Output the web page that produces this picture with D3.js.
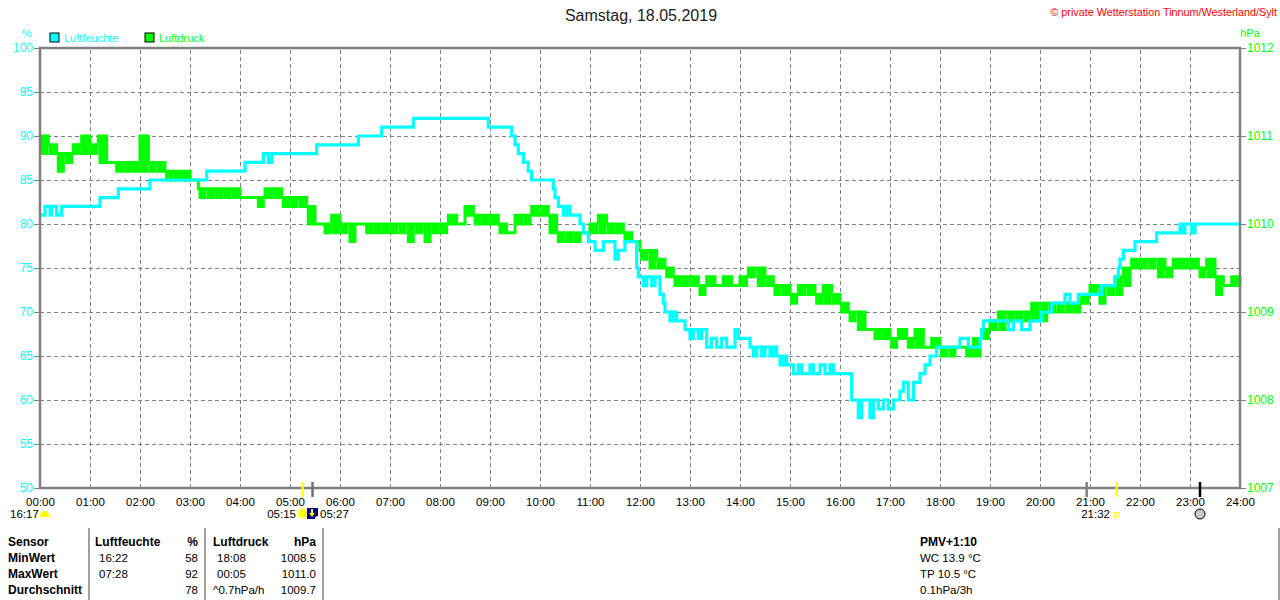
<!DOCTYPE html>
<html>
<head>
<meta charset="utf-8">
<script src="https://cdn.jsdelivr.net/npm/d3@7"></script>
<style>
body { margin: 0; background: #fff; }
svg { display: block; font-family: "Liberation Sans", Arial, sans-serif; }
</style>
</head>
<body>
<div id="chart"></div>
<script>
// Luftfeuchte: Wechselpunkte (Uhrzeit, %)
var humTimes = ["00:00","00:06","00:12","00:14","00:20","00:26","01:12","01:34","02:12","03:20",
  "04:06","04:28","04:34","04:38","05:32","06:22","06:50","07:28","08:58","09:26",
  "09:30","09:34","09:40","09:46","09:50","10:16","10:18","10:22","10:28","10:32",
  "10:36","10:48","10:52","10:58","11:06","11:16","11:30","11:34","11:42","11:56",
  "11:58","12:04","12:08","12:14","12:18","12:24","12:28","12:30","12:36","12:40",
  "12:44","12:54","13:00","13:04","13:10","13:14","13:20","13:26","13:32","13:38",
  "13:44","13:54","13:58","14:12","14:16","14:20","14:26","14:30","14:36","14:40",
  "14:44","14:48","14:52","14:56","15:04","15:10","15:14","15:24","15:28","15:36",
  "15:42","15:48","15:52","16:14","16:22","16:26","16:36","16:40","16:46","16:52",
  "16:58","17:04","17:12","17:16","17:22","17:28","17:36","17:42","17:48","17:56",
  "18:24","18:34","18:48","18:50","18:52","19:22","19:28","19:38","19:48","20:02",
  "20:14","20:30","20:36","20:46","21:14","21:30","21:34","21:36","21:40","21:54",
  "22:20","22:48","22:50","22:54","23:02","23:06","24:00"];
var humValues = [81,82,81,82,81,82,83,84,85,86,
  87,88,87,88,89,90,91,92,91,90,
  89,88,87,86,85,84,83,82,81,82,
  81,80,79,78,77,78,76,77,78,75,
  74,73,74,73,74,72,71,70,69,70,
  69,68,67,68,67,68,66,67,66,67,
  66,68,67,66,65,66,65,66,65,66,
  65,64,65,64,63,64,63,64,63,64,
  63,64,63,60,58,60,58,60,59,60,
  59,60,61,62,60,62,63,64,65,66,
  67,66,67,68,69,68,69,68,69,70,
  71,72,71,72,73,74,75,76,77,78,
  79,80,79,80,79,80,80];

// Luftdruck: 10-Minuten-Bloecke, kleinster und groesster Wert (hPa)
var presLo = [
  1010.8,1010.8,1010.6,1010.7,1010.8,1010.8,1010.8,1010.7,1010.7,1010.6,
  1010.6,1010.6,1010.6,1010.6,1010.6,1010.5,1010.5,1010.5,1010.5,1010.3,
  1010.3,1010.3,1010.3,1010.3,1010.3,1010.3,1010.2,1010.3,1010.3,1010.2,
  1010.2,1010.2,1010.0,1010.0,1009.9,1009.9,1009.9,1009.8,1010.0,1009.9,
  1009.9,1009.9,1009.9,1009.9,1009.8,1009.9,1009.8,1009.9,1009.9,1010.0,
  1010.0,1010.1,1010.0,1010.0,1010.0,1009.9,1009.9,1010.0,1010.0,1010.1,
  1010.1,1009.9,1009.8,1009.8,1009.8,1009.9,1009.9,1009.9,1009.9,1009.9,
  1009.8,1009.8,1009.6,1009.5,1009.5,1009.4,1009.3,1009.3,1009.3,1009.2,
  1009.3,1009.3,1009.3,1009.3,1009.3,1009.4,1009.3,1009.3,1009.2,1009.2,
  1009.1,1009.2,1009.2,1009.1,1009.1,1009.1,1009.0,1008.9,1008.8,1008.8,
  1008.7,1008.7,1008.6,1008.7,1008.6,1008.6,1008.6,1008.6,1008.5,1008.5,
  1008.6,1008.5,1008.5,1008.7,1008.8,1008.8,1008.9,1008.9,1008.9,1008.9,
  1008.9,1009.0,1009.0,1009.0,1009.0,1009.1,1009.2,1009.1,1009.2,1009.2,
  1009.3,1009.5,1009.5,1009.5,1009.4,1009.4,1009.5,1009.5,1009.5,1009.4,
  1009.4,1009.2,1009.3,1009.3];
var presHi = [
  1011.0,1010.9,1010.8,1010.8,1010.9,1011.0,1010.9,1011.0,1010.7,1010.7,
  1010.7,1010.7,1011.0,1010.7,1010.7,1010.6,1010.6,1010.6,1010.5,1010.4,
  1010.4,1010.4,1010.4,1010.4,1010.3,1010.3,1010.3,1010.4,1010.4,1010.3,
  1010.3,1010.3,1010.2,1010.0,1010.0,1010.1,1010.0,1010.0,1010.0,1010.0,
  1010.0,1010.0,1010.0,1010.0,1010.0,1010.0,1010.0,1010.0,1010.0,1010.1,
  1010.0,1010.2,1010.1,1010.1,1010.1,1010.0,1009.9,1010.1,1010.1,1010.2,
  1010.2,1010.1,1009.9,1009.9,1009.9,1009.9,1010.0,1010.1,1010.0,1010.0,
  1009.9,1009.8,1009.7,1009.7,1009.6,1009.5,1009.4,1009.4,1009.4,1009.3,
  1009.4,1009.3,1009.4,1009.3,1009.4,1009.5,1009.5,1009.4,1009.3,1009.3,
  1009.2,1009.3,1009.3,1009.2,1009.3,1009.2,1009.1,1009.0,1009.0,1008.8,
  1008.8,1008.8,1008.7,1008.8,1008.7,1008.8,1008.6,1008.7,1008.6,1008.6,
  1008.6,1008.6,1008.7,1008.8,1008.9,1009.0,1009.0,1009.0,1009.0,1009.1,
  1009.1,1009.1,1009.1,1009.1,1009.1,1009.2,1009.3,1009.3,1009.3,1009.4,
  1009.5,1009.6,1009.6,1009.6,1009.6,1009.5,1009.6,1009.6,1009.6,1009.5,
  1009.6,1009.4,1009.3,1009.4];

var xTickLabels = ["00:00","01:00","02:00","03:00","04:00","05:00","06:00","07:00","08:00",
  "09:00","10:00","11:00","12:00","13:00","14:00","15:00","16:00","17:00","18:00",
  "19:00","20:00","21:00","22:00","23:00","24:00"];
var humTicks = [50,55,60,65,70,75,80,85,90,95,100];
var presTicks = [1007,1008,1009,1010,1011,1012];

var tableRows = [
  ["Sensor", "Luftfeuchte", "%", "Luftdruck", "hPa"],
  ["MinWert", "16:22", "58", "18:08", "1008.5"],
  ["MaxWert", "07:28", "92", "00:05", "1011.0"],
  ["Durchschnitt", "", "78", "^0.7hPa/h", "1009.7"]
];
var infoLines = ["PMV+1:10", "WC 13.9 °C", "TP 10.5 °C", "0.1hPa/3h"];

var width = 1280, height = 600;
var margin = {top: 48, right: 40, bottom: 112, left: 40};
var cyan = "#00ffff", green = "#00ff00", grey = "#808080";

function toMin(s) { var p = s.split(":"); return +p[0] * 60 + +p[1]; }

var svg = d3.select("#chart").append("svg")
    .attr("width", width)
    .attr("height", height);

var x = d3.scaleLinear().domain([0, 1440]).range([margin.left, width - margin.right]);
var yH = d3.scaleLinear().domain([50, 100]).range([height - margin.bottom, margin.top]);
var yP = d3.scaleLinear().domain([1007, 1012]).range([height - margin.bottom, margin.top]);

// grid
svg.append("g")
    .attr("transform", "translate(0," + yH(50) + ")")
    .call(d3.axisBottom(x).tickValues(d3.range(60, 1440, 60)).tickSize(-(yH(50) - yH(100))).tickFormat(""))
    .call(function(g) { g.select(".domain").remove(); })
    .selectAll("line")
      .attr("stroke", grey)
      .attr("stroke-dasharray", "4,3");

svg.append("g")
    .attr("transform", "translate(" + x(0) + ",0)")
    .call(d3.axisLeft(yH).tickValues(humTicks.slice(1, -1)).tickSize(-(x(1440) - x(0))).tickFormat(""))
    .call(function(g) { g.select(".domain").remove(); })
    .selectAll("line")
      .attr("stroke", grey)
      .attr("stroke-dasharray", "4,3");

// data lines
var humData = humTimes.map(function(t, i) { return {t: toMin(t), v: humValues[i]}; });

// inside each 10-minute block the reading flips between its low and high value
var presData = [];
presLo.forEach(function(lo, i) {
  for (var k = 0; k < 5; k++) {
    presData.push({t: i * 10 + k * 2, v: k % 2 === 0 ? presHi[i] : lo});
  }
});
presData.push({t: 1440, v: presLo[presLo.length - 1]});

svg.append("path")
    .datum(presData)
    .attr("fill", "none")
    .attr("stroke", green)
    .attr("stroke-width", 3)
    .attr("d", d3.line().curve(d3.curveStepAfter)
      .x(function(d) { return x(d.t); })
      .y(function(d) { return yP(d.v); }));

svg.append("path")
    .datum(humData)
    .attr("fill", "none")
    .attr("stroke", cyan)
    .attr("stroke-width", 3.2)
    .attr("d", d3.line().curve(d3.curveStepAfter)
      .x(function(d) { return x(d.t); })
      .y(function(d) { return yH(d.v); }));

// frame
svg.append("rect")
    .attr("x", x(0))
    .attr("y", yH(100))
    .attr("width", x(1440) - x(0))
    .attr("height", yH(50) - yH(100))
    .attr("fill", "none")
    .attr("stroke", grey)
    .attr("stroke-width", 2.5);

// axes
var axL = svg.append("g")
    .attr("transform", "translate(" + (x(0) - 1) + ",0)")
    .call(d3.axisLeft(yH).tickValues(humTicks).tickSize(5).tickPadding(1))
    .attr("font-size", 12)
    .attr("font-family", null);
axL.select(".domain").remove();
axL.selectAll("line").attr("stroke", grey);
axL.selectAll("text").attr("fill", cyan);

var axR = svg.append("g")
    .attr("transform", "translate(" + (x(1440) + 1) + ",0)")
    .call(d3.axisRight(yP).tickValues(presTicks).tickSize(5).tickPadding(1).tickFormat(d3.format("d")))
    .attr("font-size", 12)
    .attr("font-family", null);
axR.select(".domain").remove();
axR.selectAll("line").attr("stroke", grey);
axR.selectAll("text").attr("fill", green);

var axB = svg.append("g")
    .attr("transform", "translate(0," + (yH(50) + 2) + ")")
    .call(d3.axisBottom(x).tickValues(d3.range(0, 1441, 60)).tickSize(0).tickPadding(8)
      .tickFormat(function(d, i) { return xTickLabels[i]; }))
    .attr("font-size", 11.5)
    .attr("font-family", null);
axB.select(".domain").remove();
axB.selectAll("text").attr("fill", "#000");

// unit labels, title, legend
svg.append("text").attr("x", 27).attr("y", 37).attr("text-anchor", "middle")
    .attr("font-size", 11).attr("fill", cyan).text("%");
svg.append("text").attr("x", 1250).attr("y", 37).attr("text-anchor", "middle")
    .attr("font-size", 11).attr("fill", green).text("hPa");

svg.append("text")
    .attr("x", 641).attr("y", 21)
    .attr("text-anchor", "middle")
    .attr("font-size", 16)
    .attr("fill", "#222")
    .text("Samstag, 18.05.2019");

svg.append("text")
    .attr("x", 1277).attr("y", 16)
    .attr("text-anchor", "end")
    .attr("font-size", 10.8)
    .attr("fill", "#ff0000")
    .text("© private Wetterstation Tinnum/Westerland/Sylt");

var legend = svg.append("g").selectAll("g")
    .data([["Luftfeuchte", cyan], ["Luftdruck", green]])
    .enter().append("g")
      .attr("transform", function(d, i) { return "translate(" + (50 + i * 95) + ",33)"; });
legend.append("rect")
    .attr("width", 9).attr("height", 9)
    .attr("fill", function(d) { return d[1]; })
    .attr("stroke", "#000");
legend.append("text")
    .attr("x", 14).attr("y", 9)
    .attr("font-size", 11)
    .attr("fill", function(d) { return d[1]; })
    .text(function(d) { return d[0]; });

// sun / moon markers
var markTimes = ["05:15", "05:27", "20:56", "21:32", "23:12"];
var markColors = ["#ffff00", "#707070", "#808080", "#ffff00", "#000"];
svg.append("g").selectAll("line")
    .data(markTimes)
    .enter().append("line")
      .attr("x1", function(d) { return x(toMin(d)); })
      .attr("x2", function(d) { return x(toMin(d)); })
      .attr("y1", yH(50) - 6)
      .attr("y2", yH(50) + 9)
      .attr("stroke", function(d, i) { return markColors[i]; })
      .attr("stroke-width", 2.5);

var sub = svg.append("g").attr("font-size", 11.5).attr("fill", "#000");
sub.append("text").attr("x", 10).attr("y", 518).text("16:17");
sub.append("path")
    .attr("d", "M40,517 L40,515 Q40,511 44.5,511 Q49,511 49,515 L49,517 Z")
    .attr("fill", "#ffff00");

sub.append("text").attr("x", 296).attr("y", 518).attr("text-anchor", "end").text("05:15");
sub.append("circle").attr("cx", x(toMin("05:15"))).attr("cy", 513.5).attr("r", 6).attr("fill", "#ffff99");
sub.append("circle").attr("cx", x(toMin("05:15"))).attr("cy", 513.5).attr("r", 4).attr("fill", "#ffff00");
sub.append("rect").attr("x", 307).attr("y", 508).attr("width", 11).attr("height", 11).attr("fill", "#000080");
sub.append("path").attr("d", "M311,509 L313,509 L313,513 L315,513 L312,517 L309,513 L311,513 Z").attr("fill", "#ffff00");
sub.append("path").attr("d", "M315,519 Q315,516 318,516 L318,519 Z").attr("fill", "#ffffff");
sub.append("text").attr("x", 320).attr("y", 518).text("05:27");

sub.append("text").attr("x", 1110).attr("y", 518).attr("text-anchor", "end").text("21:32");
sub.append("rect").attr("x", 1114.5).attr("y", 512.5).attr("width", 4.5).attr("height", 4.5)
    .attr("fill", "#fff").attr("stroke", "#ffff00");
sub.append("circle").attr("cx", x(toMin("23:12"))).attr("cy", 514).attr("r", 5)
    .attr("fill", "#c8c8c8").attr("stroke", "#000");

// table
svg.append("g").selectAll("line")
    .data([89, 205, 323, 1279])
    .enter().append("line")
      .attr("x1", function(d) { return d; })
      .attr("x2", function(d) { return d; })
      .attr("y1", 528).attr("y2", 600)
      .attr("stroke", grey)
      .attr("stroke-width", 1.5);

var colX = [8, 99, 198, 217, 316];
var colAnchor = ["start", "start", "end", "start", "end"];
tableRows.forEach(function(row, r) {
  row.forEach(function(cell, c) {
    var bold = r === 0 || c === 0;
    var cx = colX[c];
    if (r === 0 && (c === 1 || c === 3)) cx -= 4;
    if (r === 3 && c === 3) cx -= 4;
    svg.append("text")
        .attr("x", cx)
        .attr("y", 546 + r * 16)
        .attr("text-anchor", colAnchor[c])
        .attr("font-size", bold ? 12 : 11.5)
        .attr("font-weight", bold ? "bold" : "normal")
        .attr("fill", "#000")
        .text(cell);
  });
});

svg.append("g").selectAll("text")
    .data(infoLines)
    .enter().append("text")
      .attr("x", 920)
      .attr("y", function(d, i) { return 546 + i * 16; })
      .attr("font-size", function(d, i) { return i === 0 ? 12 : 11.5; })
      .attr("font-weight", function(d, i) { return i === 0 ? "bold" : "normal"; })
      .attr("fill", "#000")
      .text(function(d) { return d; });
</script>
</body>
</html>
